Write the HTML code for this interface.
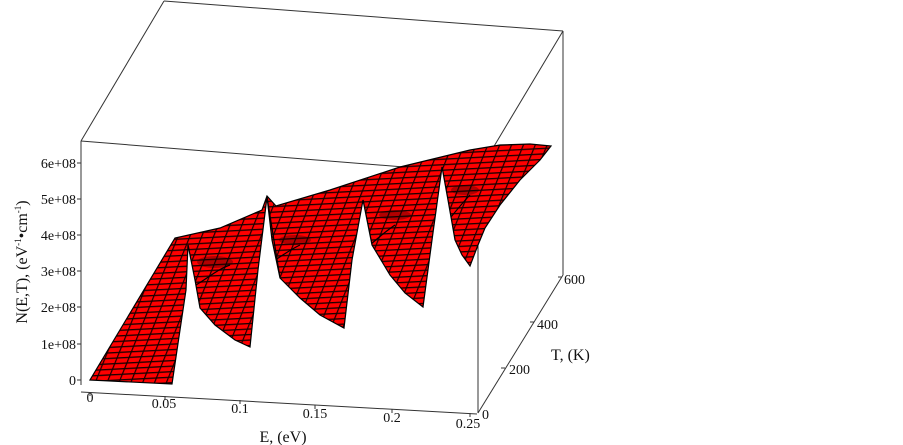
<!DOCTYPE html>
<html><head><meta charset="utf-8"><style>
html,body{margin:0;padding:0;background:#fff;}
svg{display:block;font-family:"Liberation Serif",serif;}
</style></head><body>
<svg width="903" height="445" viewBox="0 0 903 445" xmlns="http://www.w3.org/2000/svg">
<defs>
<pattern id="h1" patternUnits="userSpaceOnUse" width="40" height="5.5" patternTransform="rotate(-3)">
<rect width="40" height="1.3" y="0" fill="#1a0000"/>
</pattern>
<pattern id="h2" patternUnits="userSpaceOnUse" width="11" height="40" patternTransform="rotate(22)">
<rect width="1.2" height="40" x="0" fill="#1a0000"/>
</pattern>
<clipPath id="surf"><path id="sp" d="M90,380 L172,384 L180,330 L186,290 L188,245 L195,280 L200,308 L215,325 L235,340 L250,347 L258,270 L267,197 L272,240 L280,278 L300,298 L320,315 L344,328 L352,260 L363,200 L368,225 L372,245 L390,275 L405,293 L423,307 L432,240 L442,167 L448,200 L455,240 L462,255 L470,266 L478,245 L485,228 L500,205 L520,180 L540,160 L551,146 L530,144 L500,145 L470,150 L400,167 L330,190 L276,206 L267,196 L262,210 L220,228 L175,238 Z"/></clipPath>
</defs>
<g stroke="#333" stroke-width="1" fill="none">
<line x1="81" y1="141" x2="164" y2="1"/>
<line x1="164" y1="1" x2="563" y2="31"/>
<line x1="563" y1="31" x2="478" y2="173"/>
<line x1="81" y1="141" x2="478" y2="173"/>
<line x1="563" y1="31" x2="563" y2="275"/>
<line x1="478" y1="173" x2="478" y2="413"/>
<line x1="81" y1="141" x2="81" y2="385"/>
<line x1="81" y1="392" x2="477" y2="414"/>
<line x1="478" y1="413" x2="563" y2="275"/>
</g>
<g stroke="#333" stroke-width="1">
<line x1="77" y1="380" x2="81" y2="380"/><line x1="77" y1="344" x2="81" y2="344"/>
<line x1="77" y1="307" x2="81" y2="307"/><line x1="77" y1="271" x2="81" y2="271"/>
<line x1="77" y1="235" x2="81" y2="235"/><line x1="77" y1="199" x2="81" y2="199"/>
<line x1="77" y1="163" x2="81" y2="163"/>
<line x1="90" y1="392" x2="90" y2="396"/><line x1="165" y1="396" x2="165" y2="400"/>
<line x1="240" y1="400" x2="240" y2="404"/><line x1="315" y1="405" x2="315" y2="409"/>
<line x1="392" y1="409" x2="392" y2="413"/><line x1="470" y1="413" x2="470" y2="417"/>
<line x1="505" y1="368" x2="501" y2="368"/><line x1="534" y1="322" x2="530" y2="322"/>
<line x1="562" y1="277" x2="558" y2="277"/>
</g>
<g font-size="14" fill="#111" text-anchor="end">
<text x="76" y="385">0</text><text x="76" y="349">1e+08</text>
<text x="76" y="312">2e+08</text><text x="76" y="276">3e+08</text>
<text x="76" y="240">4e+08</text><text x="76" y="204">5e+08</text>
<text x="76" y="168">6e+08</text>
</g>
<g font-size="14" fill="#111" text-anchor="middle">
<text x="90" y="402">0</text><text x="164" y="408">0.05</text>
<text x="240" y="413">0.1</text><text x="315" y="418">0.15</text>
<text x="392" y="422">0.2</text><text x="468" y="428">0.25</text>
</g>
<g font-size="14" fill="#111">
<text x="482" y="419">0</text><text x="509" y="374">200</text>
<text x="537" y="329">400</text><text x="564" y="284">600</text>
</g>
<text x="283" y="442" font-size="16" text-anchor="middle" fill="#111">E, (eV)</text>
<text x="551" y="360" font-size="16" fill="#111">T, (K)</text>
<text transform="translate(27,262) rotate(-90)" font-size="16" text-anchor="middle" fill="#111">N(E,T), (eV<tspan font-size="9" dy="-6">-1</tspan><tspan dy="6">•cm</tspan><tspan font-size="9" dy="-6">-1</tspan><tspan dy="6">)</tspan></text>
<use href="#sp" fill="#ff0000"/>
<g clip-path="url(#surf)">
<rect x="80" y="130" width="480" height="270" fill="url(#h1)"/>
<rect x="80" y="130" width="480" height="270" fill="url(#h2)"/>
<g fill="#000" opacity="0.3">
<ellipse cx="215" cy="262" rx="18" ry="6"/><ellipse cx="295" cy="240" rx="16" ry="5"/>
<ellipse cx="395" cy="215" rx="16" ry="5"/><ellipse cx="465" cy="190" rx="14" ry="5"/>
</g>
<g stroke="#000" stroke-width="1.2" fill="none">
<path d="M188,245 L200,308"/><path d="M267,197 L280,278"/><path d="M363,200 L372,245"/><path d="M442,167 L455,240"/>
<path d="M186,290 C200,285 215,270 230,265"/><path d="M258,270 C270,265 285,252 300,245"/>
<path d="M352,260 C365,250 380,235 395,225"/><path d="M432,240 C445,225 460,205 470,195"/>
</g>
</g>
<use href="#sp" fill="none" stroke="#000" stroke-width="1.2"/>
</svg>
</body></html>
